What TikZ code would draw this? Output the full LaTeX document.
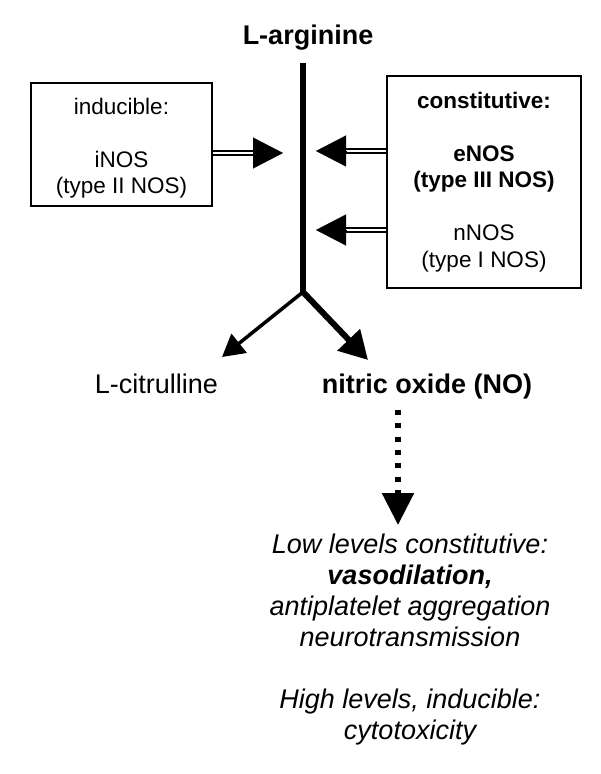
\documentclass[tikz,border=0pt]{standalone}
\usepackage{fontspec}
\setmainfont{Liberation Sans}
\usetikzlibrary{arrows.meta}
\begin{document}
\begin{tikzpicture}[x=1pt,y=-1pt,
  lbl/.style={font=\fontsize{27}{31}\selectfont, inner sep=0pt, anchor=base},
  lblb/.style={font=\fontsize{27}{31}\selectfont\bfseries, inner sep=0pt, anchor=base},
  boxnode/.style={draw, line width=1.5pt, align=center, font=\fontsize{22.5}{26.5}\selectfont, inner sep=0pt},
  dbl/.style={double, double distance=2pt, line width=1.8pt},
  bighead/.style={line width=0.1pt, -{Triangle[length=30pt,width=31pt]}},
  stem/.style={line width=6pt},
  thinbranch/.style={line width=3.5pt, -{Triangle[length=22pt,width=24pt]}},
  thickbranch/.style={line width=6pt, -{Triangle[length=28pt,width=30pt]}},
  dotted arrow/.style={line width=5.5pt, dash pattern=on 5pt off 8.3pt, -{Triangle[length=32pt,width=31pt]}},
  effects/.style={font=\fontsize{27}{31}\selectfont\itshape, align=center, inner sep=0pt, anchor=north}
]
\useasboundingbox (0,0) rectangle (600,774);

\node[lblb] (arg) at (308,44) {L-arginine};
\node[boxnode, minimum width=181pt, minimum height=123pt] (ibox) at (121.5,144.5)
  {\rule{0pt}{23.5pt}inducible:\\[26.5pt]iNOS\\(type II NOS)};
\node[boxnode, minimum width=194pt, minimum height=212pt] (cbox) at (484,182)
  {\textbf{constitutive:}\\[26.5pt]\textbf{eNOS}\\\textbf{(type III NOS)}\\[26.5pt]nNOS\\(type I NOS)};

\coordinate (top) at (303,63);
\coordinate (fork) at (303,292);
\coordinate (tipI) at (283,153);
\coordinate (tipE) at (316,151);
\coordinate (tipN) at (316,230);
\coordinate (tipC) at (222,357);
\coordinate (tipO) at (368,360);

\node[lbl] (cit) at (156.5,393) {L-citrulline};
\node[lblb] (no) at (427,393) {nitric oxide (NO)};
\node[effects] (eff) at (410,533.5)
  {Low levels constitutive:\\\textbf{vasodilation,}\\antiplatelet aggregation\\neurotransmission\\[31pt]High levels, inducible:\\cytotoxicity};

\coordinate (dotS) at (398,410);
\coordinate (dotT) at (398,525);

% main stem
\draw[stem] (top) -- (fork);
\draw[thinbranch] (fork) -- (tipC);
\draw[thickbranch] (fork) -- (tipO);

% double arrows
\draw[dbl] (tipI -| ibox.east) -- ([xshift=-29pt]tipI);
\draw[bighead] ([xshift=-30pt]tipI) -- (tipI);
\draw[dbl] (tipE -| cbox.west) -- ([xshift=30pt]tipE);
\draw[bighead] ([xshift=31pt]tipE) -- (tipE);
\draw[dbl] (tipN -| cbox.west) -- ([xshift=30pt]tipN);
\draw[bighead] ([xshift=31pt]tipN) -- (tipN);

% dotted arrow
\draw[dotted arrow] (dotS) -- (dotT);
\end{tikzpicture}
\end{document}
